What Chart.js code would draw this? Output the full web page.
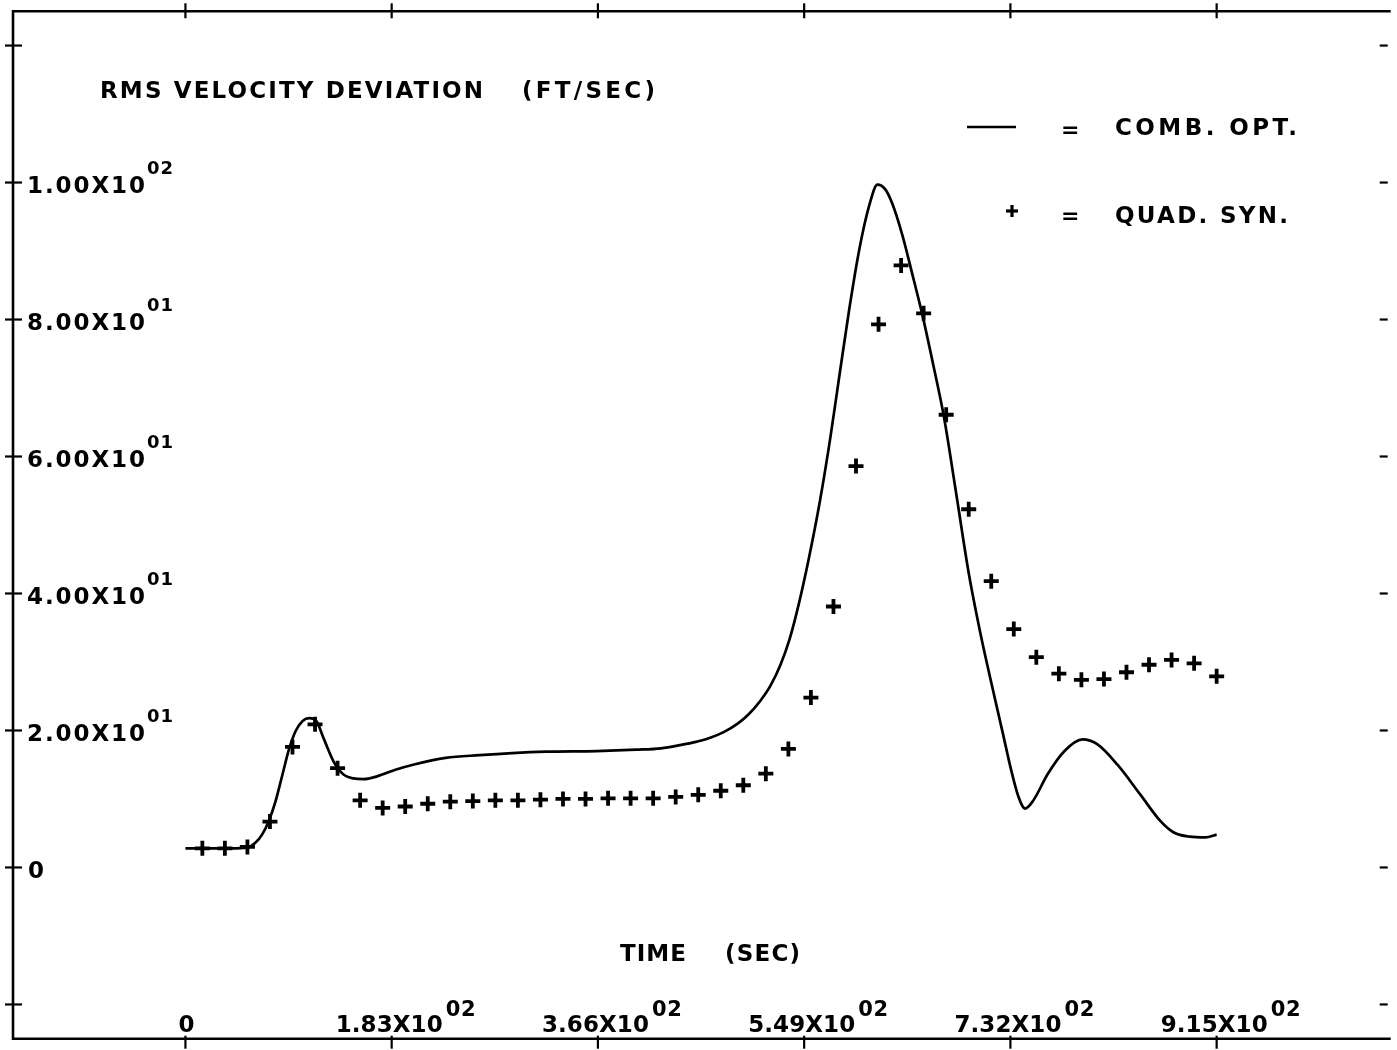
<!DOCTYPE html>
<html>
<head>
<meta charset="utf-8">
<script src="https://cdn.jsdelivr.net/npm/chart.js@4.4.1/dist/chart.umd.min.js"></script>
<style>
  html, body { margin: 0; padding: 0; background: #fff; overflow: hidden; }
  #wrap { width: 1397px; height: 1050px; position: relative; }
  canvas { display: block; }
</style>
</head>
<body>
<div id="wrap"><canvas id="c" width="1397" height="1050"></canvas></div>
<script>
// Time axis (sec)
const timeTicks = [0, 183, 366, 549, 732, 915];
const timeTickMantissa = ['0', '1.83X10', '3.66X10', '5.49X10', '7.32X10', '9.15X10'];
const timeTickExponent = ['', '02', '02', '02', '02', '02'];

// RMS velocity deviation axis (ft/sec)
const devTicks = [-20, 0, 20, 40, 60, 80, 100, 120];
const devTickMantissa = ['', '0', '2.00X10', '4.00X10', '6.00X10', '8.00X10', '1.00X10', ''];
const devTickExponent = ['', '', '01', '01', '01', '01', '02', ''];

// Combined optimal guidance (continuous curve)
const combTime = [0, 20, 40, 55, 62, 68, 74, 80, 86, 92, 98, 104, 110, 116, 123, 132, 140, 149, 158, 170,
  187, 202, 231, 261, 290, 320, 365, 400, 422, 440, 452, 465, 478, 490, 500, 510, 519, 528, 536, 544,
  553, 563, 572, 580, 589, 598, 607, 614, 621, 627, 636, 645, 654, 663, 673, 684, 695, 705, 715,
  725, 733, 739, 745, 752, 765, 780, 796, 809, 827, 847, 865, 877, 891, 905, 915];
const combDev = [2.8, 2.8, 2.8, 2.9, 3.6, 4.8, 6.8, 9.7, 13.5, 17.3, 20.0, 21.4, 21.8, 21.4, 18.7, 15.3, 13.6, 13.0, 12.9, 13.3,
  14.3, 15.0, 16.0, 16.4, 16.7, 16.9, 17.0, 17.2, 17.4, 17.9, 18.3, 18.9, 19.8, 21.0, 22.4, 24.3, 26.5, 29.6, 33.3, 38.3,
  45.0, 53.5, 62.5, 71.5, 81.5, 90.3, 96.8, 99.7, 99.0, 97.0, 92.4, 86.6, 80.6, 73.8, 65.8, 54.5, 43.0, 34.5, 27.0,
  19.8, 14.0, 10.4, 8.6, 9.7, 13.6, 17.0, 18.7, 18.0, 15.0, 10.7, 6.8, 5.1, 4.5, 4.4, 4.8];

// Quadratic synthesis (sampled every 20 sec)
const quadTime = [15, 35, 55, 75, 95, 115, 135, 155, 175, 195, 215, 235, 255, 275, 295, 315,
  335, 355, 375, 395, 415, 435, 455, 475, 495, 515, 535, 555, 575, 595, 615, 635,
  655, 675, 695, 715, 735, 755, 775, 795, 815, 835, 855, 875, 895, 915];
const quadDev = [2.8, 2.8, 3.0, 6.7, 17.6, 20.9, 14.5, 9.8, 8.7, 8.9, 9.3, 9.6, 9.7, 9.8, 9.8, 9.9,
  10.0, 10.0, 10.1, 10.1, 10.1, 10.3, 10.6, 11.2, 12.0, 13.7, 17.3, 24.8, 38.1, 58.6, 79.3, 87.9,
  80.9, 66.1, 52.3, 41.8, 34.8, 30.7, 28.3, 27.4, 27.5, 28.5, 29.6, 30.3, 29.8, 27.9];

const FONT = '"DejaVu Sans", "Liberation Sans", sans-serif';
const INK = '#000';

// Draw text starting at x, spread so its ink spans the given width, centred on its capitals
function plotText(ctx, str, x, capCenter, width, size) {
  ctx.font = `bold ${size}px ${FONT}`;
  ctx.letterSpacing = '0px';
  const n = [...str].length;
  const natural = ctx.measureText(str).width;
  const ls = (n > 1 && width) ? Math.max(0, (width - natural) / (n - 1)) : 0;
  ctx.letterSpacing = ls.toFixed(2) + 'px';
  ctx.textAlign = 'left';
  ctx.textBaseline = 'alphabetic';
  ctx.fillText(str, x, capCenter + size * 0.365);
  ctx.letterSpacing = '0px';
}

function seg(ctx, x1, y1, x2, y2) {
  ctx.beginPath();
  ctx.moveTo(x1, y1);
  ctx.lineTo(x2, y2);
  ctx.stroke();
}

const plotterFrame = {
  id: 'plotterFrame',
  afterDraw(chart) {
    const { ctx, chartArea: a, scales: { x, y } } = chart;
    ctx.save();
    ctx.strokeStyle = INK;
    ctx.fillStyle = INK;
    ctx.lineCap = 'butt';

    // frame: top, left and bottom edges
    ctx.lineWidth = 2.6;
    ctx.beginPath();
    ctx.moveTo(a.right + 5, a.top);
    ctx.lineTo(a.left, a.top);
    ctx.lineTo(a.left, a.bottom);
    ctx.lineTo(a.right + 5, a.bottom);
    ctx.stroke();

    // tick marks
    ctx.lineWidth = 2.2;
    timeTicks.forEach(v => {
      const px = x.getPixelForValue(v);
      seg(ctx, px, a.top - 8, px, a.top + 7);
      seg(ctx, px, a.bottom - 3, px, a.bottom + 10);
    });
    devTicks.forEach(v => {
      const py = y.getPixelForValue(v);
      seg(ctx, a.left - 8, py, a.left + 9, py);
      seg(ctx, a.right - 6, py, a.right + 2, py);
    });

    // vertical axis labels
    devTicks.forEach((v, i) => {
      const py = y.getPixelForValue(v);
      const m = devTickMantissa[i];
      if (!m) return;
      if (m === '0') {
        plotText(ctx, m, 28, py + 2, 0, 23);
        return;
      }
      plotText(ctx, m, 27, py + 2, 118, 23);
      plotText(ctx, devTickExponent[i], 147, py - 15, 26, 18);
    });

    // time axis labels
    timeTicks.forEach((v, i) => {
      const px = x.getPixelForValue(v);
      const m = timeTickMantissa[i];
      if (m === '0') {
        plotText(ctx, m, px - 7, 1024, 0, 23);
        return;
      }
      plotText(ctx, m, px - 56, 1024, 107, 23);
      plotText(ctx, timeTickExponent[i], px - 56 + 110, 1008, 30, 21);
    });

    // axis titles
    plotText(ctx, 'RMS VELOCITY DEVIATION', 100, 90, 383, 23);
    plotText(ctx, '(FT/SEC)', 522, 90, 133, 23);
    plotText(ctx, 'TIME', 620, 953, 66, 23);
    plotText(ctx, '(SEC)', 725, 953, 75, 23);

    // key
    ctx.lineWidth = 2.6;
    seg(ctx, 967, 127, 1016, 127);
    plotText(ctx, '=', 1061, 129, 0, 22);
    plotText(ctx, 'COMB. OPT.', 1115, 127, 182, 23);

    ctx.lineWidth = 3.2;
    seg(ctx, 1006, 211, 1018, 211);
    seg(ctx, 1012, 205, 1012, 217);
    plotText(ctx, '=', 1061, 215, 0, 22);
    plotText(ctx, 'QUAD. SYN.', 1115, 215, 173, 23);

    ctx.restore();
  }
};

new Chart(document.getElementById('c'), {
  type: 'scatter',
  data: {
    datasets: [
      {
        label: 'COMB. OPT.',
        data: combTime.map((t, i) => ({ x: t, y: combDev[i] })),
        showLine: true,
        borderColor: INK,
        borderWidth: 2.7,
        pointRadius: 0,
        cubicInterpolationMode: 'monotone',
        fill: false
      },
      {
        label: 'QUAD. SYN.',
        data: quadTime.map((t, i) => ({ x: t, y: quadDev[i] })),
        showLine: false,
        pointStyle: 'cross',
        pointRadius: 7.5,
        pointBorderWidth: 3.8,
        borderColor: INK,
        backgroundColor: INK
      }
    ]
  },
  options: {
    responsive: false,
    devicePixelRatio: 1,
    animation: false,
    events: [],
    layout: { padding: { left: 13, top: 10, right: 0, bottom: 9 } },
    plugins: { legend: { display: false }, tooltip: { enabled: false } },
    scales: {
      x: { type: 'linear', min: -153, max: 1065, display: false },
      y: { type: 'linear', min: -25, max: 125, display: false }
    }
  },
  plugins: [plotterFrame]
});
</script>
</body>
</html>
